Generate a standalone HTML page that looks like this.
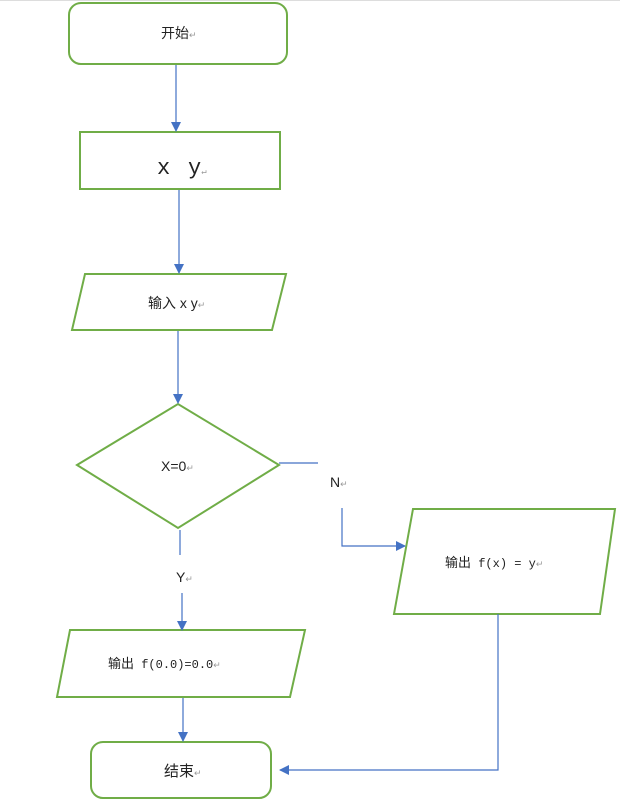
<!DOCTYPE html>
<html><head><meta charset="utf-8"><style>
html,body{margin:0;padding:0;background:#fff;}
svg{display:block;}
text{font-family:"Liberation Sans","Noto Sans CJK SC",sans-serif;font-size:14px;fill:#222;}
.m{font-family:"Liberation Mono","Noto Sans CJK SC",monospace;font-size:12px;}
.r{fill:#999;font-size:9px;}
</style></head><body>
<svg width="620" height="801" viewBox="0 0 620 801">
<defs><marker id="a" markerWidth="10" markerHeight="10" refX="9" refY="5" orient="auto" markerUnits="userSpaceOnUse"><path d="M0,0 L10,5 L0,10 z" fill="#4472c4"/></marker></defs>
<line x1="0" y1="0.5" x2="620" y2="0.5" stroke="#ddd"/>
<g fill="none" stroke="#70ad47" stroke-width="2">
<rect x="69" y="3" width="218" height="61" rx="12"/>
<rect x="80" y="132" width="200" height="57"/>
<polygon points="85,274 286,274 272,330 72,330"/>
<polygon points="77,465 178,404 279,465 178,528"/>
<polygon points="413,509 615,509 600,614 394,614"/>
<polygon points="70,630 305,630 290,697 57,697"/>
<rect x="91" y="742" width="180" height="56" rx="12"/>
</g>
<g fill="none" stroke="#4472c4" stroke-width="1.2">
<line x1="176" y1="65" x2="176" y2="131" marker-end="url(#a)"/>
<line x1="179" y1="190" x2="179" y2="273" marker-end="url(#a)"/>
<line x1="178" y1="331" x2="178" y2="403" marker-end="url(#a)"/>
<line x1="279" y1="463" x2="318" y2="463"/>
<polyline points="342,508 342,546 405,546" marker-end="url(#a)"/>
<line x1="180" y1="530" x2="180" y2="555"/>
<line x1="182" y1="593" x2="182" y2="630" marker-end="url(#a)"/>
<line x1="183" y1="698" x2="183" y2="741" marker-end="url(#a)"/>
<polyline points="498,614 498,770 280,770" marker-end="url(#a)"/>
</g>
<text x="161" y="38">开始<tspan class="r">↵</tspan></text>
<text x="157" y="174" style="font-family:'Liberation Mono',monospace;font-size:22px">x<tspan x="188">y</tspan><tspan class="r">↵</tspan></text>
<text x="148" y="308">输入 x y<tspan class="r">↵</tspan></text>
<text x="161" y="471">X=0<tspan class="r">↵</tspan></text>
<text x="330" y="487">N<tspan class="r">↵</tspan></text>
<text x="176" y="582">Y<tspan class="r">↵</tspan></text>
<text x="445" y="567" style="font-size:13px">输出<tspan class="m"> f(x) = y</tspan><tspan class="r">↵</tspan></text>
<text x="108" y="668" style="font-size:13px">输出<tspan class="m"> f(0.0)=0.0</tspan><tspan class="r">↵</tspan></text>
<text x="164" y="776" style="font-size:15px">结束<tspan class="r">↵</tspan></text>
</svg>
</body></html>
